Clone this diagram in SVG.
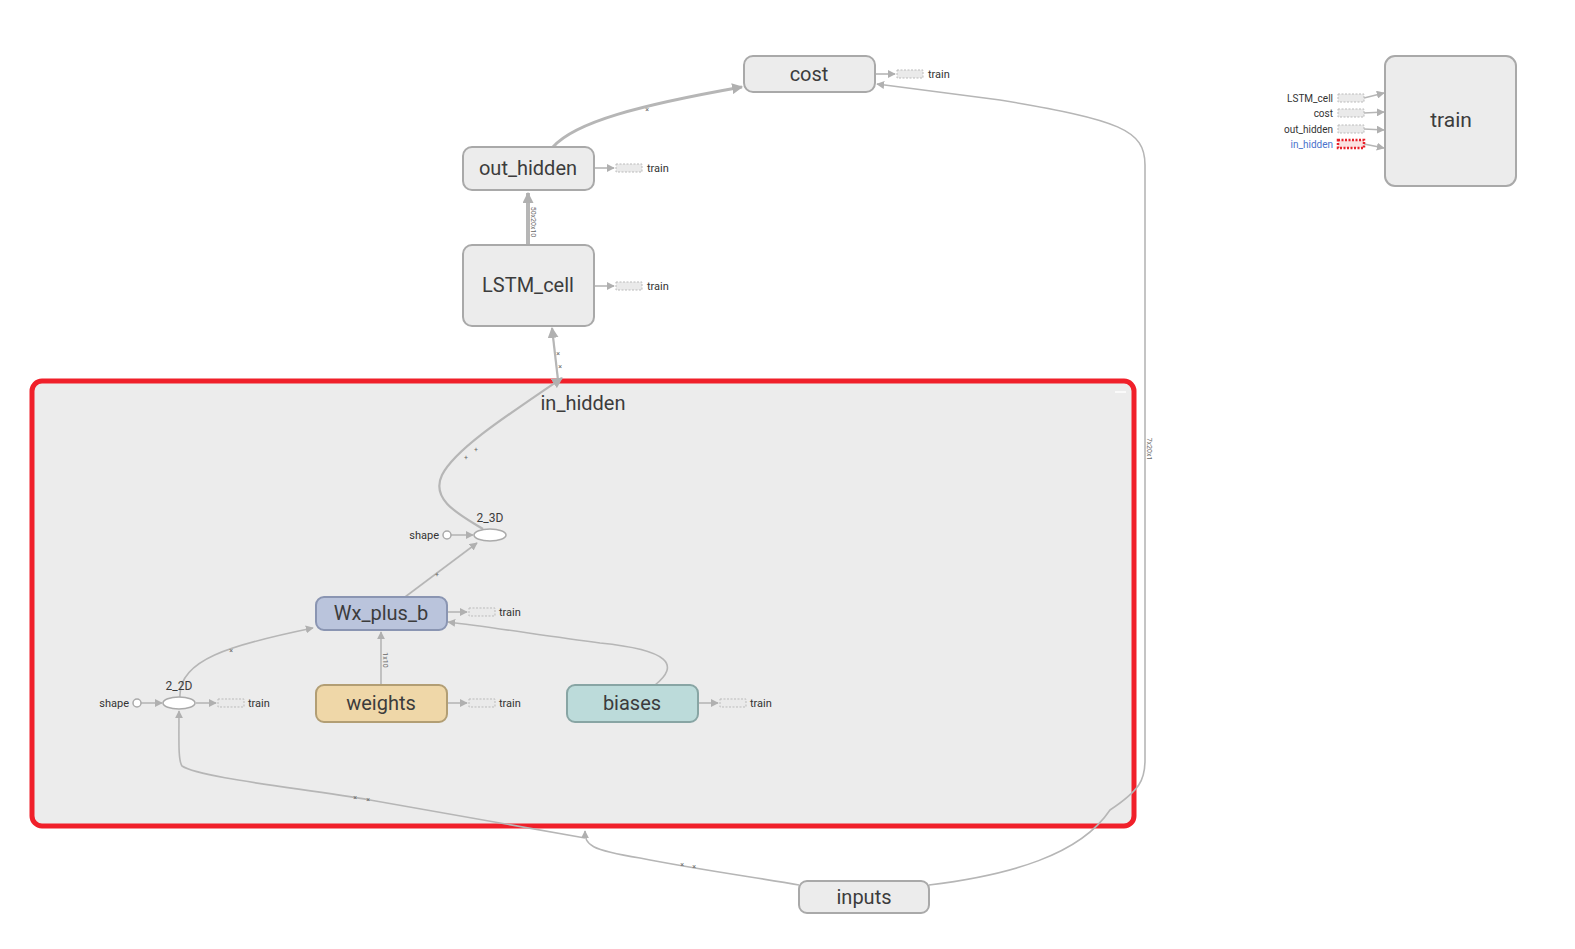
<svg xmlns="http://www.w3.org/2000/svg" width="1575" height="949" viewBox="0 0 1575 949">
<style>
.node{fill:#ececec;stroke:#a9a9a9;stroke-width:2}
.lbl{font-family:Roboto,"Liberation Sans",sans-serif;fill:#3c3c3c;text-anchor:middle;dominant-baseline:central}
.big{font-size:20px}
.sm{font-family:Roboto,"Liberation Sans",sans-serif;font-size:11px;fill:#333}
.edge{fill:none;stroke:#b6b6b6;stroke-width:1.6}
.tiny{font-family:Roboto,"Liberation Sans",sans-serif;font-size:7px;fill:#666;text-anchor:middle}
.dbox{fill:#eaeaea;stroke:#bbb;stroke-width:1;stroke-dasharray:2,1.5}
</style>
<defs>
<marker id="ah" viewBox="0 0 10 10" refX="9" refY="5" markerWidth="8" markerHeight="8" orient="auto" markerUnits="userSpaceOnUse"><path d="M0,0L10,5L0,10z" fill="#b0b0b0"/></marker>
<marker id="ahb" viewBox="0 0 10 10" refX="9" refY="5" markerWidth="11" markerHeight="11" orient="auto" markerUnits="userSpaceOnUse"><path d="M0,0L10,5L0,10z" fill="#b0b0b0"/></marker>
</defs>
<rect width="1575" height="949" fill="#fff"/>

<g id="in_hidden">
<rect x="32" y="381" width="1102" height="445" rx="10" fill="#ececec" stroke="#f0202a" stroke-width="5"/>
<text class="lbl big" x="583" y="403">in_hidden</text>
<line x1="1115" y1="392" x2="1126" y2="392" stroke="#fff" stroke-width="1.5"/>
</g>

<g id="connectors">
<path class="edge" d="M553,147 C575,122 640,105 742,87" style="stroke-width:3" marker-end="url(#ahb)"/>
<text class="tiny" x="647" y="112">×</text>
<path class="edge" d="M528,245 L528,193" style="stroke-width:4" marker-end="url(#ahb)"/>
<text class="tiny" transform="translate(533,222) rotate(90)" dy="2">50x20x10</text>
<path class="edge" d="M558,380 L552,328" style="stroke-width:2.2" marker-end="url(#ahb)"/>
<text class="tiny" x="558" y="356">×</text>
<text class="tiny" x="560" y="369">×</text>
<path class="edge" d="M483,529 C460,515 430,500 442,475 C455,450 500,420 562,378" style="stroke-width:2.2" marker-end="url(#ahb)"/>
<text class="tiny" x="466" y="460">+</text>
<text class="tiny" x="476" y="452">+</text>
<path class="edge" d="M405,597 L477,543" marker-end="url(#ah)"/>
<text class="tiny" x="437" y="577">+</text>
<path class="edge" d="M180,697 C178,660 230,645 313,628" marker-end="url(#ah)"/>
<text class="tiny" x="231" y="653">×</text>
<path class="edge" d="M381,685 L381,632" marker-end="url(#ah)"/>
<text class="tiny" transform="translate(385,660) rotate(90)" dy="2">1x10</text>
<path class="edge" d="M655,685 C680,665 670,650 600,643 C540,635 490,627 448,622" marker-end="url(#ah)"/>
<path class="edge" d="M141,703 L162,703" marker-end="url(#ah)"/>
<path class="edge" d="M451,535 L473,535" marker-end="url(#ah)"/>
<path class="edge" d="M585,838 L370,800 C300,788 200,778 182,766 C178,760 179,740 179,711" marker-end="url(#ah)"/>
<text class="tiny" x="355" y="800">×</text>
<text class="tiny" x="368" y="802">×</text>
<path class="edge" d="M799,885 C760,878 700,870 640,858 C590,850 585,845 585,831" marker-end="url(#ah)"/>
<text class="tiny" x="682" y="867">×</text>
<text class="tiny" x="694" y="869">×</text>
<path class="edge" d="M929,885 C1010,875 1080,855 1110,810 C1140,790 1145,780 1145,760 L1145,165 C1145,130 1120,120 1000,100 L877,84" marker-end="url(#ah)"/>
<text class="tiny" transform="translate(1149,449) rotate(90)" dy="2">7x20x1</text>

<path class="edge" d="M876,74 L895,74" marker-end="url(#ah)"/>
<path class="edge" d="M595,168 L614,168" marker-end="url(#ah)"/>
<path class="edge" d="M595,286 L614,286" marker-end="url(#ah)"/>
<path class="edge" d="M448,612 L467,612" marker-end="url(#ah)"/>
<path class="edge" d="M448,703 L467,703" marker-end="url(#ah)"/>
<path class="edge" d="M699,703 L718,703" marker-end="url(#ah)"/>
<path class="edge" d="M196,703 L216,703" marker-end="url(#ah)"/>
<path class="edge" d="M1364,98 L1384,93" marker-end="url(#ah)"/>
<path class="edge" d="M1364,113 L1384,112" marker-end="url(#ah)"/>
<path class="edge" d="M1364,129 L1384,130" marker-end="url(#ah)"/>
<path class="edge" d="M1364,144 L1384,148" marker-end="url(#ah)"/>
</g>

<g id="cost">
<rect class="node" x="744" y="56" width="131" height="36" rx="9"/>
<text class="lbl big" x="809" y="74">cost</text>
<rect class="dbox" x="897" y="70" width="26" height="8"/>
<text class="sm" x="928" y="78">train</text>
</g>

<g id="out_hidden">
<rect class="node" x="463" y="147" width="131" height="43" rx="9"/>
<text class="lbl big" x="528" y="168">out_hidden</text>
<rect class="dbox" x="616" y="164" width="26" height="8"/>
<text class="sm" x="647" y="172">train</text>
</g>

<g id="LSTM_cell">
<rect class="node" x="463" y="245" width="131" height="81" rx="9"/>
<text class="lbl big" x="528" y="285">LSTM_cell</text>
<rect class="dbox" x="616" y="282" width="26" height="8"/>
<text class="sm" x="647" y="290">train</text>
</g>

<g id="train">
<rect class="node" x="1385" y="56" width="131" height="130" rx="10"/>
<text class="lbl" style="font-size:21px" x="1451" y="120">train</text>
<text class="sm" x="1333" y="102" text-anchor="end" style="font-size:10px">LSTM_cell</text>
<text class="sm" x="1333" y="117" text-anchor="end" style="font-size:10px">cost</text>
<text class="sm" x="1333" y="133" text-anchor="end" style="font-size:10px">out_hidden</text>
<text class="sm" x="1333" y="148" text-anchor="end" style="font-size:10px;fill:#4a72cc">in_hidden</text>
<rect class="dbox" x="1338" y="94" width="26" height="8"/>
<rect class="dbox" x="1338" y="109" width="26" height="8"/>
<rect class="dbox" x="1338" y="125" width="26" height="8"/>
<rect x="1338" y="140" width="26" height="8" fill="#fbe0e0" stroke="#e8202a" stroke-width="2.5" stroke-dasharray="2,1.5"/>
</g>

<g id="Wx_plus_b">
<rect x="316" y="597" width="131" height="33" rx="8" fill="#bac4dc" stroke="#8a95b2" stroke-width="2"/>
<text class="lbl big" x="381" y="613">Wx_plus_b</text>
<rect class="dbox" x="469" y="608" width="26" height="8"/>
<text class="sm" x="499" y="616">train</text>
</g>

<g id="weights">
<rect x="316" y="685" width="131" height="37" rx="8" fill="#efd7a8" stroke="#b29e74" stroke-width="2"/>
<text class="lbl big" x="381" y="703">weights</text>
<rect class="dbox" x="469" y="699" width="26" height="8"/>
<text class="sm" x="499" y="707">train</text>
</g>

<g id="biases">
<rect x="567" y="685" width="131" height="37" rx="8" fill="#bcdbda" stroke="#88a5a4" stroke-width="2"/>
<text class="lbl big" x="632" y="703">biases</text>
<rect class="dbox" x="720" y="699" width="26" height="8"/>
<text class="sm" x="750" y="707">train</text>
</g>

<g id="node_2_2D">
<ellipse cx="179" cy="703" rx="16" ry="6" fill="#fff" stroke="#aaa" stroke-width="1.5"/>
<text class="lbl" style="font-size:12px" x="179" y="686">2_2D</text>
<rect class="dbox" x="218" y="699" width="26" height="8"/>
<text class="sm" x="248" y="707">train</text>
</g>

<g id="shape_2D">
<circle cx="137" cy="703" r="4" fill="#fff" stroke="#aaa" stroke-width="1.5"/>
<text class="sm" x="129" y="707" text-anchor="end">shape</text>
</g>

<g id="node_2_3D">
<ellipse cx="490" cy="535" rx="16" ry="6" fill="#fff" stroke="#aaa" stroke-width="1.5"/>
<text class="lbl" style="font-size:12px" x="490" y="518">2_3D</text>
</g>

<g id="shape_3D">
<circle cx="447" cy="535" r="4" fill="#fff" stroke="#aaa" stroke-width="1.5"/>
<text class="sm" x="439" y="539" text-anchor="end">shape</text>
</g>

<g id="inputs">
<rect class="node" x="799" y="881" width="130" height="32" rx="8"/>
<text class="lbl big" x="864" y="897">inputs</text>
</g>
</svg>
